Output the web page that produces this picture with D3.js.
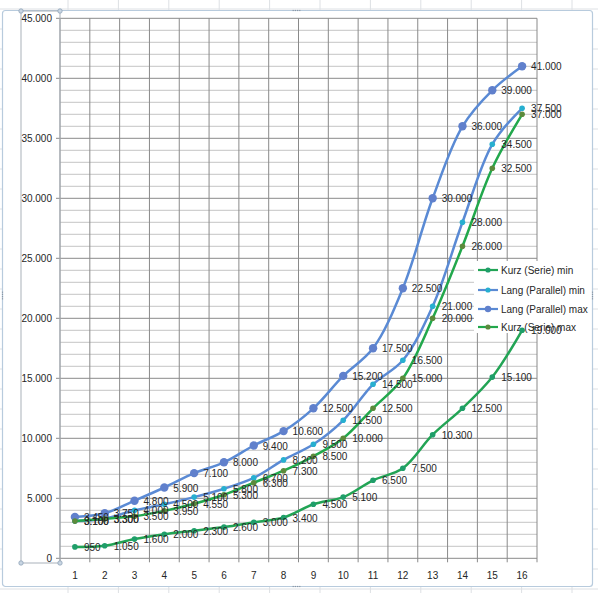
<!DOCTYPE html>
<html>
<head>
<meta charset="utf-8">
<script src="https://cdn.jsdelivr.net/npm/d3@7"></script>
<style>
html,body{margin:0;padding:0;background:#fff;}
svg{display:block;}
text{font-family:"Liberation Sans",Arial,sans-serif;}
</style>
</head>
<body>
<svg id="chart" width="598" height="593"></svg>
<script>
// ---- data ----
const categories = ["1","2","3","4","5","6","7","8","9","10","11","12","13","14","15","16"];
const seriesNames = ["Kurz (Serie) min","Lang (Parallel) min","Lang (Parallel) max","Kurz (Serie) max"];
const kurzMin = [950,1050,1600,2000,2300,2600,3000,3400,4500,5100,6500,7500,10300,12500,15100,19000];
const langMin = [3100,3300,4000,4500,5100,5800,6700,8200,9500,11500,14500,16500,21000,28000,34500,37500];
const langMax = [3450,3750,4800,5900,7100,8000,9400,10600,12500,15200,17500,22500,30000,36000,39000,41000];
const kurzMax = [3100,3300,3500,3950,4550,5300,6300,7300,8500,10000,12500,15000,20000,26000,32500,37000];
const yTicks = [0,5000,10000,15000,20000,25000,30000,35000,40000,45000];

// ---- styles ----
const styles = [
  {line:"#22a455", marker:"#1f9e6a", r:2.8},
  {line:"#5a8ad4", marker:"#27afd0", r:2.8},
  {line:"#5a8ad4", marker:"#6080cc", r:4.2},
  {line:"#22a84c", marker:"#5c8a3c", r:2.8}
];
const allSeries = [kurzMin, langMin, langMax, kurzMax];

const svg = d3.select("#chart");
const fmt = v => v === 0 ? "0" : d3.format(",")(v).replace(/,/g, ".");

// spreadsheet background grid
const bg = svg.append("g");
for (let i = 0; i < 12; i++) {
  const x = 68 + i * 50.4;
  bg.append("line").attr("x1", x).attr("x2", x).attr("y1", 0).attr("y2", 593)
    .attr("stroke", "#dde0e4").attr("stroke-width", 1);
}
for (let j = 0; j < 31; j++) {
  const y = 589 - j * 20;
  bg.append("line").attr("x1", 0).attr("x2", 598).attr("y1", y).attr("y2", y)
    .attr("stroke", "#dde0e4").attr("stroke-width", 1);
}

// chart area
svg.append("rect").attr("x", 2.5).attr("y", 10.5).attr("width", 590).attr("height", 576)
  .attr("rx", 3).attr("fill", "#fff").attr("stroke", "#b8cbdd").attr("stroke-width", 1.2);
// edge handles
const handle = (cx, cy, horiz) => {
  for (let k = -2; k < 2; k++) {
    svg.append("rect")
      .attr("x", horiz ? cx + k * 2.2 : cx - 0.6)
      .attr("y", horiz ? cy - 0.6 : cy + k * 2.2)
      .attr("width", 1.2).attr("height", 1.2).attr("fill", "#8a96a3");
  }
};
handle(297, 10.5, true); handle(297, 586.5, true);
handle(2.5, 296, false); handle(592.5, 296, false);

// scales
const x = d3.scaleBand().domain(categories).range([60, 537]).padding(0);
const y = d3.scaleLinear().domain([0, 45000]).range([558.3, 18.3]);
const cx = c => x(c) + x.bandwidth() / 2;

// grid
const grid = svg.append("g");
const minor = d3.range(1000, 45000, 1000).filter(v => v % 5000 !== 0);
grid.selectAll("line.minor").data(minor).enter().append("line")
  .attr("x1", 60).attr("x2", 537).attr("y1", d => y(d)).attr("y2", d => y(d))
  .attr("stroke", "#d0d0d0").attr("stroke-width", 1.3);
grid.selectAll("line.major").data(yTicks).enter().append("line")
  .attr("x1", 56).attr("x2", 537).attr("y1", d => y(d)).attr("y2", d => y(d))
  .attr("stroke", "#8a8a8a").attr("stroke-width", 1);
const vBounds = categories.map(c => x(c)).concat([x.range()[1]]);
grid.selectAll("line.v").data(vBounds).enter().append("line")
  .attr("x1", d => d).attr("x2", d => d).attr("y1", y(45000)).attr("y2", y(0) + 4)
  .attr("stroke", "#8a8a8a").attr("stroke-width", 1);

// axis selection rectangle
svg.append("rect").attr("x", 21).attr("y", 11).attr("width", 39).attr("height", 552)
  .attr("fill", "none").attr("stroke", "#a9b1ba").attr("stroke-width", 1);
[[21,11],[60,11],[21,563],[60,563]].forEach(p => {
  svg.append("circle").attr("cx", p[0]).attr("cy", p[1]).attr("r", 2.2)
    .attr("fill", "#c9d6e3").attr("stroke", "#8fa3b8").attr("stroke-width", 0.8);
});

// y axis labels
svg.append("g").selectAll("text").data(yTicks).enter().append("text")
  .attr("x", 52).attr("y", d => y(d) + 3.8).attr("text-anchor", "end")
  .attr("font-size", 10).attr("fill", "#262626").text(fmt);
// x axis labels
svg.append("g").selectAll("text").data(categories).enter().append("text")
  .attr("x", d => cx(d)).attr("y", 579).attr("text-anchor", "middle")
  .attr("font-size", 10).attr("fill", "#262626").text(d => d);

// legend (drawn beneath the series)
const legend = svg.append("g");
legend.append("rect").attr("x", 474).attr("y", 261).attr("width", 90).attr("height", 72).attr("fill", "#fff");
const legY = [270, 290, 309, 327];
seriesNames.forEach((name, s) => {
  const ly = legY[s];
  legend.append("line").attr("x1", 478).attr("x2", 498).attr("y1", ly).attr("y2", ly)
    .attr("stroke", styles[s].line).attr("stroke-width", 2.2);
  legend.append("circle").attr("cx", 488).attr("cy", ly).attr("r", s === 2 ? 3.2 : 2.6).attr("fill", styles[s].marker);
  legend.append("text").attr("x", 501).attr("y", ly + 3.6).attr("font-size", 10)
    .attr("fill", "#262626").text(name);
});

// series
const lineGen = d3.line().x((d, i) => cx(categories[i])).y(d => y(d)).curve(d3.curveCatmullRom.alpha(0.5));
allSeries.forEach((vals, s) => {
  const g = svg.append("g");
  g.append("path").attr("d", lineGen(vals)).attr("fill", "none")
    .attr("stroke", styles[s].line).attr("stroke-width", 2.5).attr("stroke-linejoin", "round");
  g.selectAll("circle").data(vals).enter().append("circle")
    .attr("cx", (d, i) => cx(categories[i])).attr("cy", d => y(d)).attr("r", styles[s].r)
    .attr("fill", styles[s].marker);
});

// data labels
allSeries.forEach((vals, s) => {
  svg.append("g").selectAll("text").data(vals).enter().append("text")
    .attr("x", (d, i) => cx(categories[i]) + 9).attr("y", d => y(d) + 4)
    .attr("font-size", 10).attr("fill", "#262626").text(fmt);
});
</script>
</body>
</html>
